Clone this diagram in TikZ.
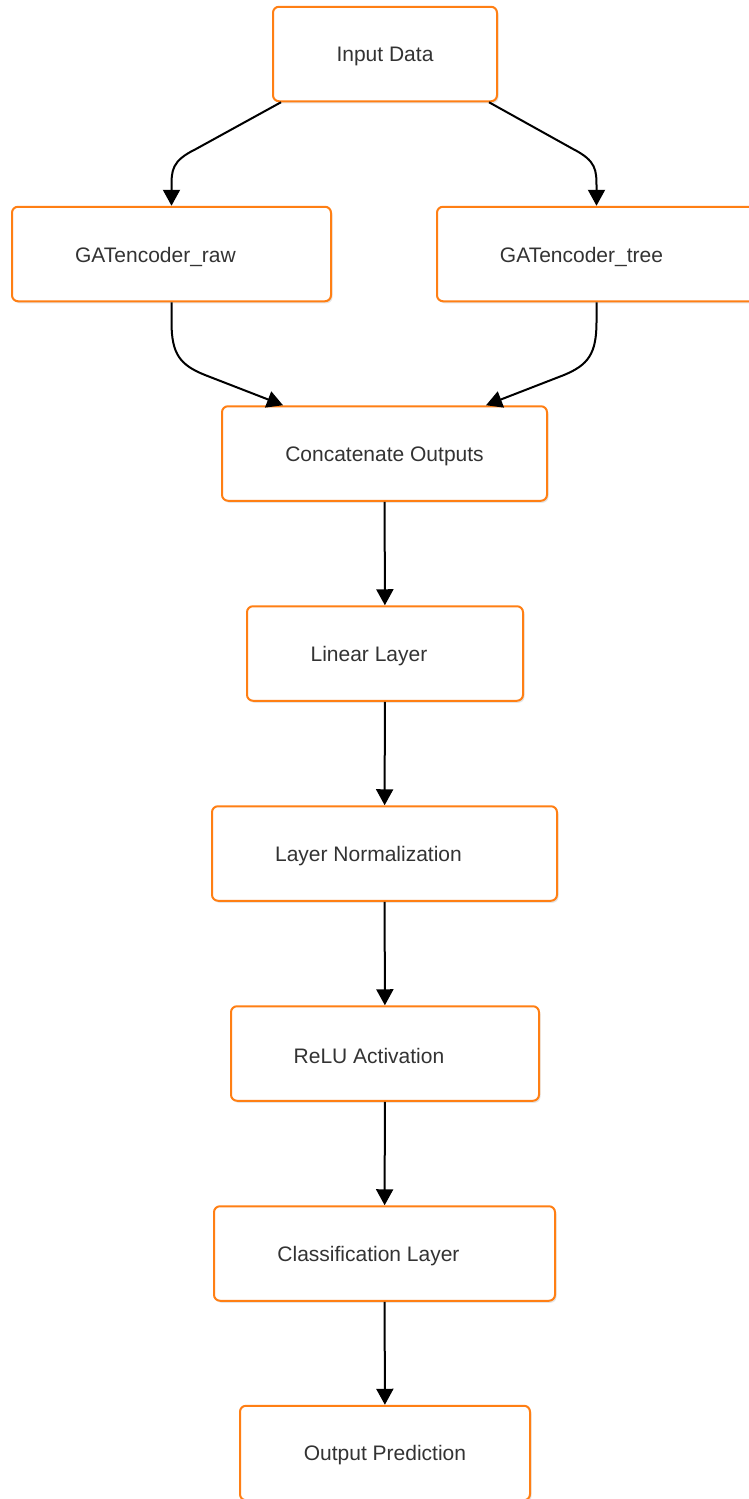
\documentclass[tikz,border=0pt]{standalone}
\usepackage{fontspec}
\setmainfont{Liberation Sans}
\usetikzlibrary{arrows.meta,shadows,calc}
\definecolor{boxorange}{RGB}{255,127,20}
\definecolor{txtgray}{RGB}{51,51,51}
\begin{document}
\begin{tikzpicture}[x=1pt,y=-1pt,
  box/.style={draw=boxorange,line width=2pt,fill=white,rounded corners=6pt,
    inner sep=0pt,minimum height=94.5pt,
    drop shadow={shadow xshift=1.5pt,shadow yshift=-2pt,opacity=0.10,fill=black}},
  txt/.style={text=txtgray,font=\fontsize{21}{25}\selectfont,inner sep=0pt,yshift=-2.5pt},
  arr/.style={draw=black,line width=2pt,-{Triangle[length=16pt,width=17pt]}}]
\useasboundingbox (0,0) rectangle (749,1499);

% boxes
\node[box,minimum width=224pt,label={[txt]center:Input Data}] (inp) at (385,54) {};
\node[box,minimum width=319pt,label={[txt,xshift=-16pt]center:GATencoder\_raw}] (raw) at (171.5,254) {};
\node[box,minimum width=319pt,label={[txt,xshift=-15pt]center:GATencoder\_tree}] (tree) at (596.5,254) {};
\node[box,minimum width=325pt,label={[txt]center:Concatenate Outputs}] (cat) at (384.5,453.5) {};
\node[box,minimum width=276pt,label={[txt,xshift=-16pt]center:Linear Layer}] (lin) at (385,653.5) {};
\node[box,minimum width=345pt,label={[txt,xshift=-16pt]center:Layer Normalization}] (norm) at (384.5,853.5) {};
\node[box,minimum width=308pt,label={[txt,xshift=-16pt]center:ReLU Activation}] (relu) at (385,1053.5) {};
\node[box,minimum width=341pt,label={[txt,xshift=-16pt]center:Classification Layer}] (cls) at (384.5,1253.5) {};
\node[box,minimum width=290pt,label={[txt]center:Output Prediction}] (out) at (385,1453) {};

% split into the two encoders
\draw[arr] ([xshift=9pt]inp.south west) -- (196,149)
  .. controls (171.5,161) and (171.5,170) .. (171.5,188) -- (raw.north);
\draw[arr] ([xshift=-9pt]inp.south east) -- (573,149)
  .. controls (596.5,161) and (596.5,170) .. (596.5,188) -- (tree.north);

% merge into the concatenation
\draw[arr] (raw.south) -- (171.5,322)
  .. controls (171.5,354) and (180,365) .. (205,375) -- ([xshift=-101.5pt]cat.north);
\draw[arr] (tree.south) -- (596.5,322)
  .. controls (596.5,354) and (588,365) .. (564,375) -- ([xshift=101.5pt]cat.north);

% straight chain
\draw[arr] (cat) -- (lin);
\draw[arr] (lin) -- (norm);
\draw[arr] (norm) -- (relu);
\draw[arr] (relu) -- (cls);
\draw[arr] (cls) -- (out);
\end{tikzpicture}
\end{document}
